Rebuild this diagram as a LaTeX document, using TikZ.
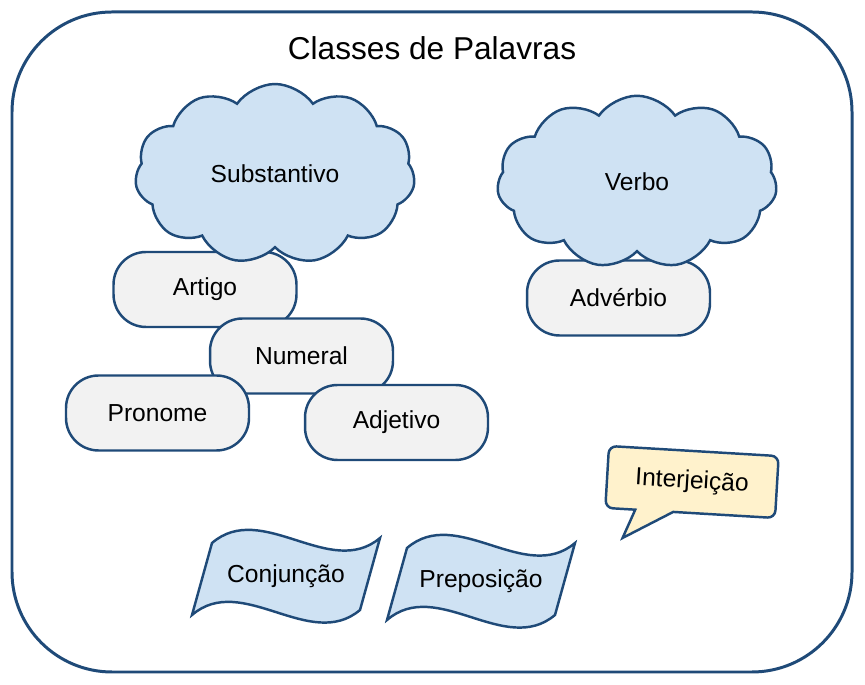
\documentclass[tikz,border=0pt]{standalone}
\usepackage{fontspec}
\setmainfont{Liberation Sans}
\usetikzlibrary{shapes.symbols}

\definecolor{edgeblue}{HTML}{1F4A78}
\definecolor{cloudblue}{HTML}{CFE2F3}
\definecolor{boxgray}{HTML}{F2F2F2}
\definecolor{notecream}{HTML}{FFF2CC}

\begin{document}
\begin{tikzpicture}[x=0.02cm,y=0.02cm,
  word/.style={font=\fontsize{14}{16}\selectfont},
  pill/.style={word,draw=edgeblue,line width=1.4pt,fill=boxgray,rounded corners=0.65cm,minimum width=3.66cm,minimum height=1.5cm},
  puff/.style={word,cloud,cloud puffs=11,cloud puff arc=110,cloud ignores aspect,draw=edgeblue,line width=1.4pt,fill=cloudblue,minimum width=5.6cm,minimum height=3.45cm},
  flag/.style={draw=edgeblue,line width=1.4pt,fill=cloudblue},
  bubble/.style={draw=edgeblue,line width=1.4pt,fill=notecream}
]
  \useasboundingbox (0,0) rectangle (865,685);
  \draw[edgeblue,line width=1.7pt,rounded corners=2cm] (12,13) rectangle (852,673);
  \node[font=\fontsize{18}{22}\selectfont] (title) at (432,637) {Classes de Palavras};

  % pills, later ones on top
  \node[pill] (artigo) at (205,395.5) {Artigo};
  \node[pill] (numeral) at (301.5,329) {Numeral};
  \node[pill] (pronome) at (157.5,272) {Pronome};
  \node[pill] (adjetivo) at (396.5,262.5) {Adjetivo};
  \node[pill] (adverbio) at (618.5,387) {Advérbio};

  % clouds cover the pills below them
  \node[puff,minimum height=3.6cm] (subst) at (275,511) {Substantivo};
  \node[puff] (verbo) at (637,503) {Verbo};

  % wavy flags
  \foreach \cx/\cy/\nm/\txt in {286/108.5/conj/Conjunção, 481/103.5/prep/Preposição}{
    \begin{scope}[shift={(\cx,\cy)}]
      \draw[flag] (-74,33.5) .. controls (-24,76.5) and (44,-3.5) .. (94,38.5)
        -- (74,-33.5) .. controls (24,-75.5) and (-44,4.5) .. (-94,-38.5) -- cycle;
      \node[word] (\nm) at (0,0) {\txt};
    \end{scope}
  }

  % speech bubble
  \begin{scope}[shift={(692,203)},rotate=-3.4]
    \draw[bubble] (-85,0) [rounded corners=0.15cm] -- (-85,31) -- (85,31) -- (85,-31)
      [sharp corners] -- (-17,-31) -- (-66,-60) -- (-55,-31)
      [rounded corners=0.15cm] -- (-85,-31) -- cycle;
    \node[word,rotate=-3.4] (interj) at (0,0) {Interjeição};
  \end{scope}
\end{tikzpicture}
\end{document}
